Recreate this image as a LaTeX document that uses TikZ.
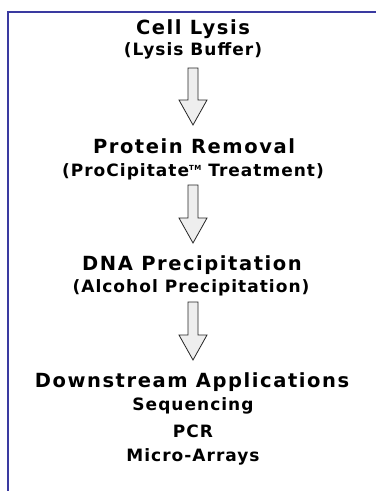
\documentclass[tikz,border=0pt]{standalone}
\usepackage{fontspec}
\setmainfont{DejaVu Sans}
\newfontfamily\headfont[LetterSpace=8]{DejaVu Sans Bold}
\newfontfamily\subfont[LetterSpace=6]{DejaVu Sans Bold}
\usetikzlibrary{calc}
\definecolor{framecol}{HTML}{3A3AA0}
\definecolor{arrowfill}{HTML}{EEEEEE}
\tikzset{
  head/.style={inner sep=0pt, anchor=base, font=\headfont\fontsize{19.5}{21}\selectfont},
  sub/.style={inner sep=0pt, anchor=base, font=\subfont\fontsize{17}{18}\selectfont},
  fatarrow/.style={draw=black!85, line width=0.8pt, fill=arrowfill, line join=miter}
}
\newcommand{\fatarr}[2]{%
  \draw[fatarrow] ($(#1)+(-5,0)$) -- ($(#2)+(-5,-25)$) -- ($(#2)+(-14,-25)$) -- (#2)
    -- ($(#2)+(14,-25)$) -- ($(#2)+(5,-25)$) -- ($(#1)+(5,0)$) -- cycle;}
\begin{document}
\begin{tikzpicture}[x=1pt,y=-1pt]
\useasboundingbox (0,0) rectangle (376,491);
\fill[white] (0,0) rectangle (376,491);
\draw[framecol, line width=2.4pt] (8,491) -- (8,12) -- (376,12);

\node[head] (n1) at (193,34) {Cell Lysis};
\node[sub]  (n1s) at (193,55) {(Lysis Buffer)};
\node[head] (n2) at (194,153) {Protein Removal};
\node[sub]  (n2s) at (193,176) {(ProCipitate{\raisebox{0.55ex}{\fontsize{7}{8}\selectfont TM}} Treatment)};
\node[head] (n3) at (192,270) {DNA Precipitation};
\node[sub]  (n3s) at (191,292) {(Alcohol Precipitation)};
\node[head] (n4) at (192,387) {Downstream Applications};
\node[sub]  (n4a) at (193,410) {Sequencing};
\node[sub]  (n4b) at (193,437) {PCR};
\node[sub]  (n4c) at (193,461) {Micro-Arrays};

\coordinate (a1s) at (193,68);  \coordinate (a1e) at (193,125);
\coordinate (a2s) at (193,185); \coordinate (a2e) at (193,243);
\coordinate (a3s) at (193,302); \coordinate (a3e) at (193,360);
\fatarr{a1s}{a1e}
\fatarr{a2s}{a2e}
\fatarr{a3s}{a3e}
\end{tikzpicture}
\end{document}
